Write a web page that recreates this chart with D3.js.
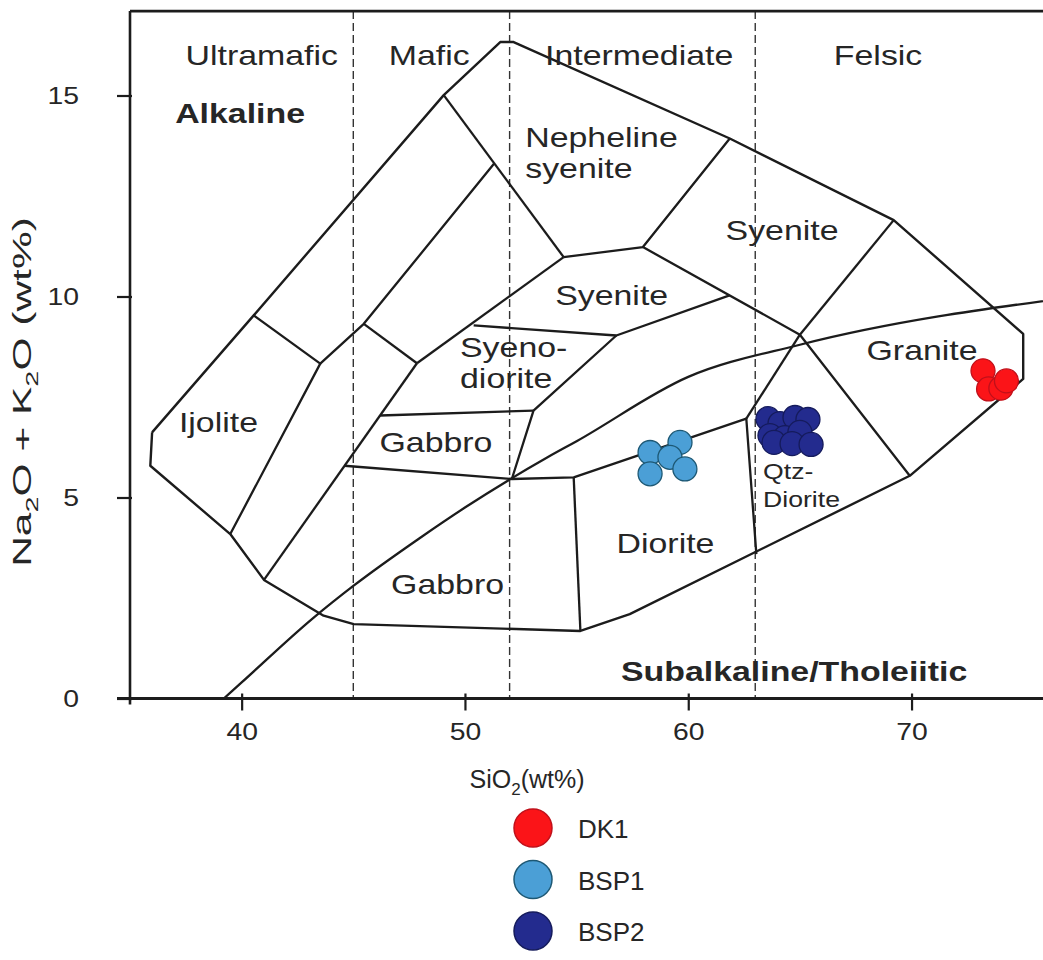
<!DOCTYPE html>
<html>
<head>
<meta charset="utf-8">
<script src="https://cdn.jsdelivr.net/npm/d3@7"></script>
<style>
  body { margin: 0; background: #ffffff; }
  text { font-family: "Liberation Sans", Arial, sans-serif; fill: #262626; }
</style>
</head>
<body>
<svg id="chart" width="1043" height="960"></svg>
<script>
// ---- axis ticks ----
const xTicks = [40, 50, 60, 70];
const yTicks = [0, 5, 10, 15];

// ---- silica classes (dashed dividers) ----
const silicaDividers = [45, 52, 63];
const silicaClasses = [
  { name: "Ultramafic", x: 40.9 },
  { name: "Mafic", x: 48.4 },
  { name: "Intermediate", x: 57.8 },
  { name: "Felsic", x: 68.5 }
];

// ---- plutonic TAS field outline ----
const outerBoundary = [
  [35.99, 6.62], [40.54, 9.53], [49.05, 15.01], [51.58, 16.33], [52.18, 16.33],
  [61.86, 13.93], [69.2, 11.9], [75.0, 9.07], [75.0, 7.95], [69.92, 5.54],
  [57.38, 2.1], [55.17, 1.68], [45.02, 1.85], [43.67, 2.06], [41.0, 2.95],
  [39.49, 4.09], [35.91, 5.79], [35.99, 6.62]
];

// internal field boundaries
const fieldLines = [
  [[40.54, 9.53], [43.52, 8.33], [39.49, 4.09]],
  [[51.3, 13.3], [45.47, 9.32], [43.52, 8.33]],
  [[45.47, 9.32], [47.85, 8.34]],
  [[47.85, 8.34], [41.0, 2.95]],
  [[47.85, 8.34], [54.42, 10.98]],
  [[49.05, 15.01], [54.42, 10.98]],
  [[54.42, 10.98], [57.97, 11.23], [61.86, 13.93]],
  [[57.97, 11.23], [65.0, 9.05], [69.92, 5.54]],
  [[65.0, 9.05], [69.2, 11.9]],
  [[62.6, 6.96], [65.0, 9.05]],
  [[50.39, 9.28], [56.78, 9.03], [61.85, 10.03]],
  [[56.78, 9.03], [53.07, 7.16], [52.1, 5.46]],
  [[46.2, 7.04], [53.07, 7.16]],
  [[44.6, 5.79], [52.1, 5.46], [54.87, 5.5], [62.6, 6.96], [63.05, 3.59]],
  [[54.87, 5.5], [55.17, 1.68]]
];

// alkaline / subalkaline divide (Irvine & Baragar)
const alkalineX = [39.2, 40, 43.2, 45, 48, 50, 53.7, 55, 60, 65, 77.4];
const alkalineY = [0, 0.4, 2, 2.8, 4, 4.75, 6, 6.4, 8, 8.8, 10];

// ---- field names ----
const fieldNames = [
  { lines: ["Ijolite"], x: 38.96, y: 6.64, anchor: "middle" },
  { lines: ["Nepheline", "syenite"], x: 52.7, y: 13.72, anchor: "start" },
  { lines: ["Syenite"], x: 64.2, y: 11.4, anchor: "middle" },
  { lines: ["Syenite"], x: 56.57, y: 9.78, anchor: "middle" },
  { lines: ["Syeno-", "diorite"], x: 49.78, y: 8.49, anchor: "start" },
  { lines: ["Gabbro"], x: 48.7, y: 6.12, anchor: "middle" },
  { lines: ["Gabbro"], x: 49.22, y: 2.6, anchor: "middle" },
  { lines: ["Diorite"], x: 58.98, y: 3.63, anchor: "middle" },
  { lines: ["Granite"], x: 70.47, y: 8.41, anchor: "middle" }
];
const qtzDiorite = { lines: ["Qtz-", "Diorite"], x: 63.35, y: 5.46 };

// ---- samples: SiO2, Na2O+K2O (wt%) ----
const seriesNames = ["DK1", "BSP1", "BSP2"];
const dk1 = [[73.2, 8.15], [73.45, 7.7], [74.0, 7.72], [74.25, 7.9]];
const bsp1 = [[58.29, 6.12], [59.63, 6.37], [59.18, 6.0], [58.29, 5.59], [59.85, 5.71]];
const bsp2 = [
  [63.57, 6.96], [64.11, 6.84], [64.78, 6.99], [65.36, 6.94], [63.66, 6.54],
  [64.33, 6.49], [65.0, 6.62], [63.84, 6.37], [64.65, 6.34], [65.5, 6.32]
];
const seriesColors = {
  DK1: { fill: "#fb1418", stroke: "#c0101a" },
  BSP1: { fill: "#4b9fd6", stroke: "#1d5874" },
  BSP2: { fill: "#232b8e", stroke: "#151b5c" }
};

// ---- layout ----
const svg = d3.select("#chart");
const X0 = 130, XPER = 22.33, Y0 = 698.5, YPER = 40.2;
const x = d3.scaleLinear().domain([35, 76]).range([X0, X0 + 41 * XPER]);
const y = d3.scaleLinear().domain([0, 17.1]).range([Y0, Y0 - 17.1 * YPER]);
const STRETCH = 1.21;
const ink = "#1c1c1c";

svg.append("defs").append("clipPath").attr("id", "plotClip")
  .append("rect").attr("x", x(35)).attr("y", y(17.1))
  .attr("width", 1043 - x(35)).attr("height", y(0) - y(17.1));

const plot = svg.append("g").attr("clip-path", "url(#plotClip)");
const line = d3.line().x(d => x(d[0])).y(d => y(d[1]));

// dashed silica dividers
plot.selectAll("line.div").data(silicaDividers).join("line")
  .attr("x1", d => x(d)).attr("x2", d => x(d))
  .attr("y1", y(17.1)).attr("y2", y(0))
  .attr("stroke", "#333").attr("stroke-width", 1.4)
  .attr("stroke-dasharray", "8,4");

// field outline and boundaries
plot.append("path").attr("d", line(outerBoundary))
  .attr("fill", "none").attr("stroke", ink).attr("stroke-width", 2.4)
  .attr("stroke-linejoin", "round");
plot.selectAll("path.field").data(fieldLines).join("path")
  .attr("d", d => line(d)).attr("fill", "none")
  .attr("stroke", ink).attr("stroke-width", 2.3).attr("stroke-linejoin", "round");

const alk = alkalineX.map((v, i) => [v, alkalineY[i]]);
plot.append("path")
  .attr("d", d3.line().x(d => x(d[0])).y(d => y(d[1])).curve(d3.curveMonotoneX)(alk))
  .attr("fill", "none").attr("stroke", ink).attr("stroke-width", 2.3);

// stretched label helper
function label(g, str, px, py, opts = {}) {
  const t = g.append("text")
    .attr("transform", `translate(${px},${py}) scale(${opts.sx || STRETCH},1)`)
    .attr("text-anchor", opts.anchor || "middle")
    .attr("font-size", opts.size || 28)
    .attr("font-weight", opts.weight || "normal")
    .text(str);
  return t;
}

const labels = svg.append("g");
silicaClasses.forEach(c => label(labels, c.name, x(c.x), y(15.77)));
label(labels, "Alkaline", x(39.93), y(14.31), { weight: "bold" });
label(labels, "Subalkaline/Tholeiitic", x(64.74), y(0.44), { weight: "bold" });

fieldNames.forEach(f => {
  f.lines.forEach((s, i) => label(labels, s, x(f.x), y(f.y) + i * 31, { anchor: f.anchor }));
});

// samples
const series = [["BSP1", bsp1], ["BSP2", bsp2], ["DK1", dk1]];
series.forEach(([name, pts]) => {
  svg.append("g").selectAll("circle").data(pts).join("circle")
    .attr("cx", d => x(d[0])).attr("cy", d => y(d[1])).attr("r", 12)
    .attr("fill", seriesColors[name].fill)
    .attr("stroke", seriesColors[name].stroke).attr("stroke-width", 1.3);
});

qtzDiorite.lines.forEach((s, i) =>
  label(labels, s, x(qtzDiorite.x), y(qtzDiorite.y) + i * 28.4, { anchor: "start", size: 22 }));

// ---- axes ----
const axes = svg.append("g");
// frame top and left
axes.append("line").attr("x1", x(35)).attr("x2", 1043).attr("y1", y(17.1)).attr("y2", y(17.1))
  .attr("stroke", ink).attr("stroke-width", 2.6);
axes.append("line").attr("x1", x(35)).attr("x2", x(35)).attr("y1", y(17.1)).attr("y2", y(0) + 6)
  .attr("stroke", ink).attr("stroke-width", 2.6);
axes.append("line").attr("x1", x(35) - 13).attr("x2", 1043).attr("y1", y(0)).attr("y2", y(0))
  .attr("stroke", ink).attr("stroke-width", 2.8);

const xAxis = axes.append("g").attr("transform", `translate(0,${y(0)})`)
  .call(d3.axisBottom(x).tickValues(xTicks).tickSize(12).tickSizeOuter(0).tickPadding(12));
xAxis.select(".domain").remove();
xAxis.selectAll(".tick line").attr("y1", -5).attr("stroke", ink).attr("stroke-width", 2.2);
xAxis.selectAll(".tick text")
  .attr("font-size", 24).attr("fill", "#2a2a2a")
  .attr("font-family", "Liberation Sans, Arial, sans-serif")
  .attr("transform", `scale(1.18,1)`);

const yAxis = axes.append("g").attr("transform", `translate(${x(35)},0)`)
  .call(d3.axisLeft(y).tickValues(yTicks).tickSize(13).tickSizeOuter(0).tickPadding(18));
yAxis.select(".domain").remove();
yAxis.selectAll(".tick line").attr("x1", 2).attr("stroke", ink).attr("stroke-width", 2.2);
yAxis.selectAll(".tick text")
  .attr("font-size", 24).attr("fill", "#2a2a2a")
  .attr("font-family", "Liberation Sans, Arial, sans-serif")
  .attr("transform", `scale(1.18,1)`)
  .attr("x", -51 / 1.18);

// axis titles
const xt = svg.append("text").attr("x", 527).attr("y", 788)
  .attr("text-anchor", "middle").attr("font-size", 25);
xt.append("tspan").text("SiO");
xt.append("tspan").attr("font-size", 17).attr("dy", 7).text("2");
xt.append("tspan").attr("dy", -7).text("(wt%)");

const yt = svg.append("text")
  .attr("transform", `translate(31,392) rotate(-90) scale(1.7,1)`)
  .attr("text-anchor", "middle").attr("font-size", 25);
yt.append("tspan").text("Na");
yt.append("tspan").attr("font-size", 17).attr("dy", 7).text("2");
yt.append("tspan").attr("dy", -7).text("O + K");
yt.append("tspan").attr("font-size", 17).attr("dy", 7).text("2");
yt.append("tspan").attr("dy", -7).text("O (wt%)");

// ---- legend ----
const legend = svg.append("g");
seriesNames.forEach((name, i) => {
  const cy = 828 + i * 51.5;
  legend.append("circle").attr("cx", 533).attr("cy", cy).attr("r", 19)
    .attr("fill", seriesColors[name].fill).attr("stroke", seriesColors[name].stroke)
    .attr("stroke-width", 1.5);
  legend.append("text").attr("x", 578).attr("y", cy + 10)
    .attr("font-size", 26).attr("fill", "#2e2e2e").text(name);
});
</script>
</body>
</html>
